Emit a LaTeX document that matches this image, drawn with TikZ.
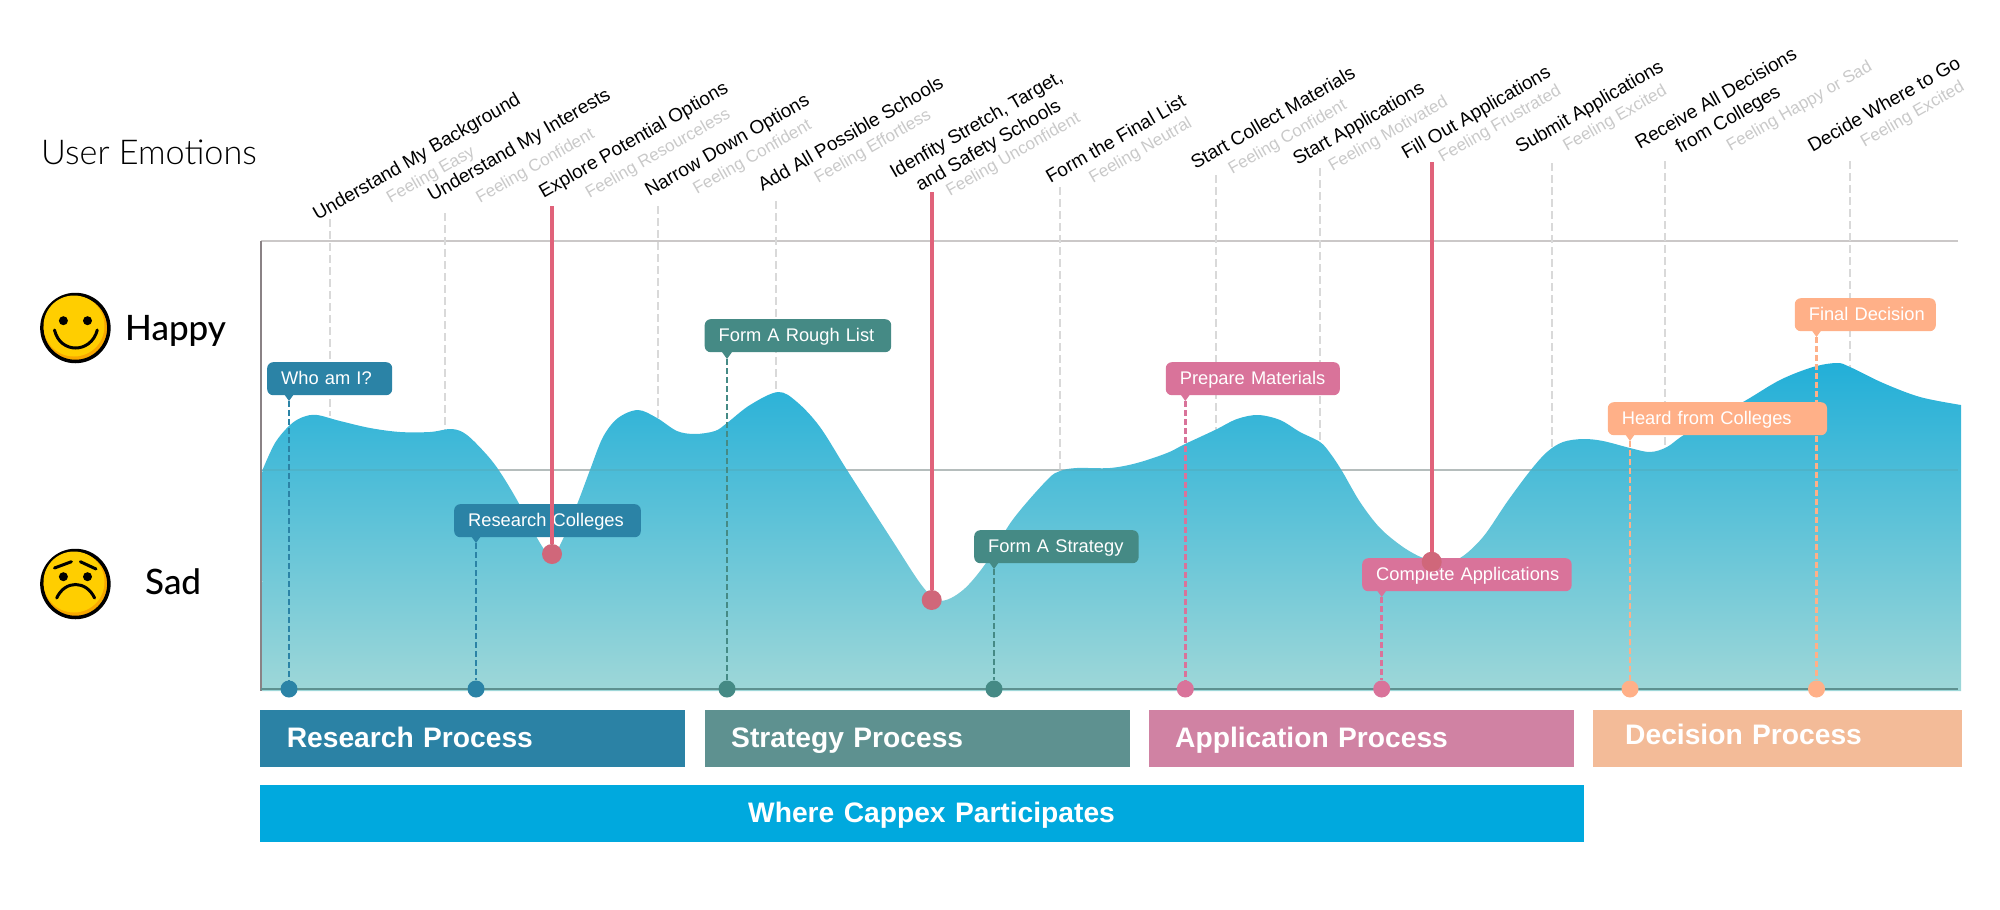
\documentclass[tikz,border=0pt]{standalone}
\usepackage{fontspec}
\setmainfont{Liberation Sans}
\newfontfamily\moodfont{Lato Medium}
\newfontfamily\titlefont{Lato Light}
\usetikzlibrary{positioning,calc}
\definecolor{research}{HTML}{2B83A6}
\definecolor{strategy}{HTML}{458A85}
\definecolor{application}{HTML}{D9739A}
\definecolor{decision}{HTML}{FFB088}
\definecolor{researchbar}{HTML}{2B82A5}
\definecolor{strategybar}{HTML}{5E9190}
\definecolor{applicationbar}{HTML}{D082A3}
\definecolor{decisionbar}{HTML}{F3BB98}
\definecolor{cappex}{HTML}{00A9DE}
\definecolor{lowline}{HTML}{E0627A}
\definecolor{lowdot}{HTML}{D0677A}
\definecolor{feeling}{HTML}{C9C9C9}
\definecolor{gridline}{HTML}{CBC8C8}
\definecolor{axisline}{HTML}{8A8285}
\definecolor{guideline}{HTML}{D9D9D9}
\definecolor{areatop}{HTML}{22AFD8}
\definecolor{areabottom}{HTML}{9ED7D8}
\definecolor{smiley}{HTML}{FFCE00}
\definecolor{smileyrim}{HTML}{F8A800}
\tikzset{
  steplabel/.style={rotate=30,anchor=base west,inner sep=0pt,font=\fontsize{19}{24}\selectfont,text=black},
  feellabel/.style={rotate=30,anchor=base west,inner sep=0pt,font=\fontsize{17}{20}\selectfont,text=feeling},
  guide/.style={guideline,line width=2pt,dash pattern=on 8pt off 4pt},
  lowstem/.style={lowline,line width=3.6pt},
  lownode/.style={circle,fill=lowdot,minimum size=20pt,inner sep=0pt},
  basedot/.style={circle,fill=#1,minimum size=17pt,inner sep=0pt},
  stem/.style={#1,line width=2.5pt,dash pattern=on 6pt off 3pt},
  callout/.style={fill=#1,rounded corners=6pt,anchor=north west,text=white,inner xsep=14pt,inner ysep=7.5pt,
    text height=15pt,text depth=3pt,align=left,font=\fontsize{18.3}{20}\selectfont},
  procbar/.style={fill=#1,anchor=north west,text=white,minimum height=57pt,inner ysep=0pt,align=left,
    text height=23pt,text depth=5pt,font=\fontsize{28.2}{32}\bfseries\selectfont},
  face/.style={circle,draw=black,line width=3.5pt,fill=smileyrim,minimum size=67pt,inner sep=0pt},
  faceline/.style={black,line width=3pt,line cap=round},
  mood/.style={anchor=base west,inner sep=0pt,text=black,font=\moodfont\fontsize{35}{40}\selectfont}
}
\begin{document}
\begin{tikzpicture}[x=1pt,y=-1pt]
  \useasboundingbox (0,0) rectangle (2000,910);
  % chart frame
  \draw[gridline,line width=2.5pt] (1958,241) -- (261,241);
  \draw[gridline,line width=2.5pt] (261,470) -- (1958,470);
  \draw[axisline,line width=2.5pt] (261,241) -- (261,691);
  % dashed guides
  \foreach \x/\t/\b [count=\i] in {329.5/219/416, 445/213/431, 657.6/206/420, 776.3/201/393, 1059.8/187/472, 1216/175/431, 1320/168/443, 1551.8/163/450, 1665/161/448, 1850/161/368}{
    \coordinate (guidetop\i) at (\x,\t);
    \coordinate (guideend\i) at (\x,\b);
    \draw[guide] (guidetop\i) -- (guideend\i);
  }
  % emotion area
  \shade[top color=areatop,bottom color=areabottom] plot[smooth,tension=.55] coordinates {
    (262.5,470) (275,443) (290,425) (303,417) (317,415) (340,421) (370,428) (400,432) (430,432) (452,429) (467,435) (487,455) (500,472) (517,500)
    (540,543) (552,556) (562.5,540) (578,502) (590,470) (603,437) (618,418) (638,410) (657,418) (677,431) (695,434) (715,431)
    (727,423) (750,405) (778,392) (797,402) (820,427) (847,470) (892,540) (923,587) (941,600.7) (963,590)
    (986,563) (1012.5,520) (1047,480) (1060,471) (1077,468) (1110,468) (1137,463) (1167,453) (1185,444) (1215,430) (1237,419)
    (1258,415) (1280,420) (1300,432) (1320,442) (1330,453) (1342,471) (1360,502) (1380,528) (1403,547) (1423,558) (1440,562) (1460,558) (1483,537) (1507,502)
    (1530,471) (1547,452) (1563,442) (1583,439) (1603,441) (1630,448) (1650,452) (1667,447) (1687,433) (1743,402) (1780,380) (1813,367)
    (1837,363) (1850,367) (1883,383) (1920,397) (1961,405)
  } -- (1961,691) -- (262,691) -- cycle;
  \draw[strategybar,opacity=.2,line width=2.5pt] (263,470) -- (1958,470);
  \draw[strategybar,line width=2.5pt] (261,689) -- (1958,689);
  % stems down to the time line
  \foreach \n/\x/\tip/\c in {who/289/401/research, colleges/476/543/research, rough/727/359/strategy, plan/994/569/strategy, prepare/1185.3/401/application, complete/1381.7/597/application, heard/1630/441/decision, final/1816.5/337/decision}{
    \node[basedot=\c] (dot\n) at (\x,689) {};
    \coordinate (tip\n) at (\x,\tip);
    \draw[stem=\c] (tip\n) -- (dot\n);
  }
  % callouts
  \foreach \n/\x/\y/\w/\c/\lab in {who/267/362/125/research/{Who am I?}, colleges/454/504/186.6/research/{Research Colleges}, rough/704.5/319/186.5/strategy/{Form A Rough List}, plan/974/530/164.4/strategy/{Form A Strategy}, prepare/1165.6/362/174/application/{Prepare Materials}, complete/1362/558/209.4/application/{Complete Applications}, heard/1607.6/402/219.2/decision/{Heard from Colleges}, final/1794.6/298/141/decision/{Final Decision}}{
    \pgfmathsetmacro{\tw}{\w-28}
    \node[callout=\c,text width=\tw pt] (call\n) at (\x,\y) {\mbox{\lab}};
    \fill[\c] ($(tip\n)+(-5,-7)$) -- ($(tip\n)+(5,-7)$) -- (tip\n) -- cycle;
  }
  % low points
  \foreach \n/\x/\t/\b in {explore/552/206/554, identify/931.7/192/600, fill/1431.7/162/561.7}{
    \coordinate (stemtop\n) at (\x,\t);
    \node[lownode] (low\n) at (\x,\b) {};
    \draw[lowstem] (stemtop\n) -- (low\n);
  }
  % steps and feelings
  \foreach \x/\y/\lab/\fx/\fy/\fl [count=\i] in {
    317.5/221/{Understand My Background}/390.5/204/{Feeling Easy},
    432.2/202/{Understand My Interests}/479.9/204/{Feeling Confident},
    543.5/199/{Explore Potential Options}/589.5/199/{Feeling Resourceless},
    649.5/197/{Narrow Down Options}/697/195/{Feeling Confident},
    762.5/192/{Add All Possible Schools}/818.3/184/{Feeling Effortless},
    1050.5/184/{Form the Final List}/950/197/{Feeling Unconfident},
    1195.5/170/{Start Collect Materials}/1092.9/184/{Feeling Neutral},
    1297.5/166/{Start Applications}/1232.2/175/{Feeling Confident},
    1406.3/160/{Fill Out Applications}/1332.5/172/{Feeling Motivated},
    1520/154/{Submit Applications}/1442.5/163/{Feeling Frustrated},
    1812.5/153/{Decide Where to Go}/1567/152/{Feeling Excited}}{
    \node[steplabel] (stepname\i) at (\x,\y) {\lab};
    \node[feellabel] (feelname\i) at (\fx,\fy) {\fl};
  }
  \node[steplabel,anchor=center,align=center] (stepidentify) at (982.8,136) {Idenfity Stretch, Target,\\and Safety Schools};
  \node[steplabel,anchor=center,align=center] (stepreceive) at (1722.5,110) {Receive All Decisions\\from Colleges};
  \node[feellabel] (feelreceive) at (1730.5,152) {Feeling Happy or Sad};
  \node[feellabel] (feeldecide) at (1864.5,148) {Feeling Excited};
  % left column
  \node[mood,font=\titlefont\fontsize{34.2}{40}\selectfont] (title) at (41,164) {User Emotions};
  \node[face] (happyface) at (75.4,328) {};
  \fill[smiley] (74,326) circle (30.5);
  \fill (63.4,320.7) circle (4.5) (87.5,320.7) circle (4.5);
  \draw[faceline] (54.5,330) .. controls (60,354) and (91,354) .. (97.3,330);
  \node[mood] (happy) at (125,340) {Happy};
  \node[face] (sadface) at (75.4,584) {};
  \fill[smiley] (74,582) circle (30.5);
  \fill (63.4,576.7) circle (4.5) (87.5,576.7) circle (4.5);
  \draw[faceline] (54.5,568) -- (71.4,561.7);
  \draw[faceline] (80.4,561.7) -- (96,569);
  \draw[faceline] (56.7,598) .. controls (65,580) and (86,580) .. (94.6,598);
  \node[mood] (sad) at (145,594) {Sad};
  % process bars
  \foreach \n/\x/\w/\d/\c/\lab in {research/260/425/26.6/researchbar/{Research Process}, strategy/704.5/425.5/26.5/strategybar/{Strategy Process}, application/1149/425/26/applicationbar/{Application Process}, decision/1593/369/32/decisionbar/{\raisebox{2.7pt}{Decision Process}}}{
    \pgfmathsetmacro{\tw}{\w-2*\d}
    \node[procbar=\c,inner xsep=\d pt,text width=\tw pt] (bar\n) at (\x,709.3) {\lab};
  }
  \node[procbar=cappex,inner xsep=488pt,text width=348pt] (barcappex) at (260,785) {\mbox{Where Cappex Participates}};
\end{tikzpicture}
\end{document}
